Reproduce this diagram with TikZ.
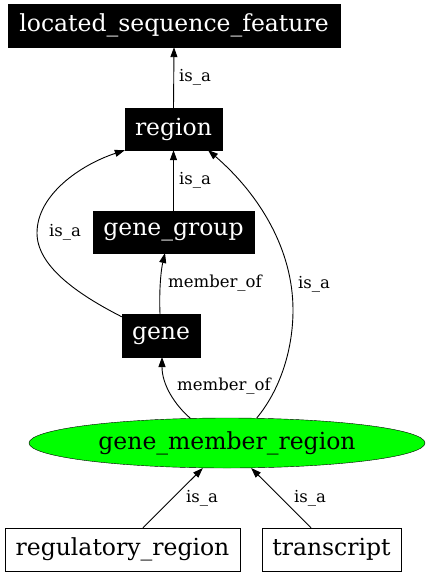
\documentclass[tikz,border=0pt]{standalone}
\usepackage{fontspec}
\setmainfont{DejaVu Serif}
\usetikzlibrary{arrows.meta,shapes.geometric}
\begin{document}
\begin{tikzpicture}[x=1pt,y=-1pt,
  blackbox/.style={draw=black,fill=black,text=white,inner sep=0pt,font=\fontsize{23.5}{28}\selectfont},
  whitebox/.style={draw=black,fill=white,text=black,inner sep=0pt,font=\fontsize{23.5}{28}\selectfont},
  greenell/.style={ellipse,draw=black,fill={rgb,255:red,0;green,255;blue,0},inner sep=0pt,font=\fontsize{23.5}{28}\selectfont},
  edge/.style={draw=black,line width=0.9pt,-{Triangle[length=10pt,width=7pt]}},
  elabel/.style={font=\fontsize{16.5}{20}\selectfont,inner sep=0pt}]
\useasboundingbox (0,0) rectangle (429,576);
\node[blackbox,minimum width=332pt,minimum height=43pt] (lsf) at (174,25.5) {located\_sequence\_feature};
\node[blackbox,minimum width=97pt,minimum height=42pt] (region) at (173.5,129) {region};
\node[blackbox,minimum width=161pt,minimum height=42pt] (gg) at (173.5,232) {gene\_group};
\node[blackbox,minimum width=78pt,minimum height=43pt] (gene) at (161,335.5) {gene};
\node[greenell,minimum width=396pt,minimum height=50pt] (gmr) at (227,443) {gene\_member\_region};
\node[whitebox,minimum width=235pt,minimum height=43pt] (rr) at (122.5,549.5) {regulatory\_region};
\node[whitebox,minimum width=139pt,minimum height=43pt] (tr) at (331.5,549.5) {transcript};

\draw[edge] (region.north) -- (lsf.south);
\node[elabel] (l1) at (195,77) {is\_a};
\draw[edge] (gg.north) -- (region.south);
\node[elabel] (l2) at (195,180) {is\_a};
\draw[edge] (gene.north west) ++(0,3) .. controls (75,293) and (37,265) .. (37,233) .. controls (37,195) and (80,165) .. (region.south west);
\node[elabel] (l3) at (65,232) {is\_a};
\draw[edge] (gene.north) ++(-1,0) .. controls (159,290) and (161,270) .. (165,253);
\node[elabel] (l4) at (215,283) {member\_of};
\draw[edge] (gmr.146) .. controls (175,405) and (162,385) .. (162,357);
\node[elabel] (l5) at (224,386) {member\_of};
\draw[edge] (gmr.40) .. controls (280,390) and (293,350) .. (293,310) .. controls (293,250) and (260,195) .. (208,150);
\node[elabel] (l6) at (314,284) {is\_a};
\draw[edge] (rr.north) ++(20.5,0) -- (gmr.226);
\node[elabel] (l7) at (202,498) {is\_a};
\draw[edge] (tr.north) ++(-20.5,0) -- (gmr.314);
\node[elabel] (l8) at (310,498) {is\_a};
\end{tikzpicture}
\end{document}
